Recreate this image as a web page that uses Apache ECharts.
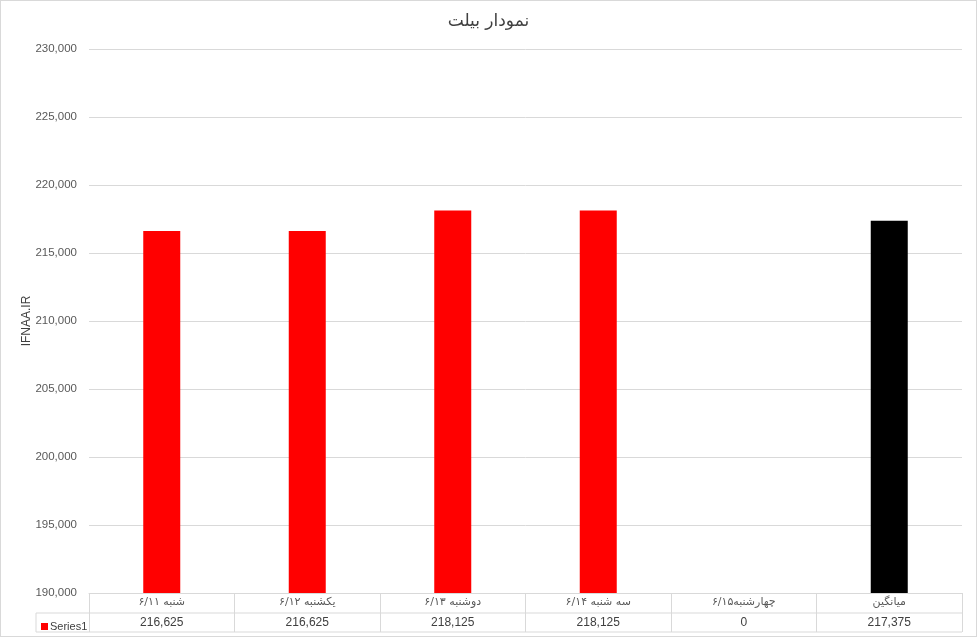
<!DOCTYPE html>
<html><head><meta charset="utf-8">
<script src="https://cdn.jsdelivr.net/npm/echarts@6/dist/echarts.min.js"></script>
<style>
html,body{margin:0;padding:0;background:#fff;}
#c{position:absolute;left:0;top:0;width:975px;height:635px;border:1px solid #d9d9d9;box-sizing:content-box;}
</style></head>
<body><div id="c"></div>
<script>
const categories = ['شنبه ۶/۱۱', 'یکشنبه ۶/۱۲', 'دوشنبه ۶/۱۳', 'سه شنبه ۶/۱۴', 'چهارشنبه۶/۱۵', 'میانگین'];
const values = [216625, 216625, 218125, 218125, 0, 217375];
const barColors = ['#ff0000', '#ff0000', '#ff0000', '#ff0000', '#ff0000', '#000000'];
const seriesName = 'Series1';
const titleText = 'نمودار بیلت';
const yAxisName = 'IFNAA.IR';

const G = {left: 88, right: 14, top: 48, bottom: 43};
const chart = echarts.init(document.getElementById('c'));
const fnt = 'DejaVu Sans, Noto Sans, sans-serif';
const lineStyle = {stroke: '#d9d9d9', lineWidth: 1};
const W = 975, H = 635;
const axisY = H - G.bottom;
chart.setOption({
  animation: false,
  title: {text: titleText, left: 'center', top: 7, textStyle: {fontFamily: fnt, fontSize: 17, fontWeight: 'normal', color: '#404040'}},
  grid: G,
  legend: {show: true, left: 35, top: axisY + 23, itemWidth: 7, itemHeight: 7, itemGap: 3, icon: 'rect',
    textStyle: {fontFamily: 'Liberation Sans, sans-serif', fontSize: 11, color: '#404040', padding: [0,0,0,-3]}, data: [seriesName]},
  xAxis: [{
    type: 'category', data: categories, position: 'bottom',
    axisLine: {lineStyle: {color: '#d9d9d9'}},
    axisTick: {show: true, length: 39, interval: 0, lineStyle: {color: '#d9d9d9'}},
    axisLabel: {interval: 0, margin: 4, fontFamily: fnt, fontSize: 11, color: '#595959'}
  }, {
    type: 'category', data: values.map(v => v.toLocaleString('en-US')), position: 'bottom',
    axisLine: {show: false}, axisTick: {show: false},
    axisLabel: {interval: 0, margin: 24, fontFamily: 'Liberation Sans, sans-serif', fontSize: 12, color: '#404040'}
  }],
  yAxis: {
    type: 'value', min: 190000, max: 230000, interval: 5000,
    name: yAxisName, nameLocation: 'middle', nameGap: 56, nameRotate: 90, nameMoveOverlap: false,
    nameTextStyle: {fontFamily: 'Liberation Sans, sans-serif', fontSize: 12, color: '#404040'},
    axisLine: {show: false}, axisTick: {show: false},
    axisLabel: {margin: 12, fontFamily: 'Liberation Sans, sans-serif', fontSize: 11.5, color: '#595959',
      formatter: v => v.toLocaleString('en-US')},
    splitLine: {lineStyle: {color: '#d9d9d9'}}
  },
  series: [{
    name: seriesName, type: 'bar', barWidth: 37, clip: true,
    itemStyle: {color: '#ff0000'},
    data: values.map((v, i) => ({value: v, itemStyle: {color: barColors[i]}}))
  }],
  graphic: [
    {type: 'line', shape: {x1: 35, y1: axisY + 20, x2: W - G.right, y2: axisY + 20}, style: lineStyle, silent: true},
    {type: 'line', shape: {x1: 35, y1: axisY + 39, x2: W - G.right, y2: axisY + 39}, style: lineStyle, silent: true},
    {type: 'line', shape: {x1: 35, y1: axisY + 20, x2: 35, y2: axisY + 39}, style: lineStyle, silent: true}
  ]
});
</script></body></html>
